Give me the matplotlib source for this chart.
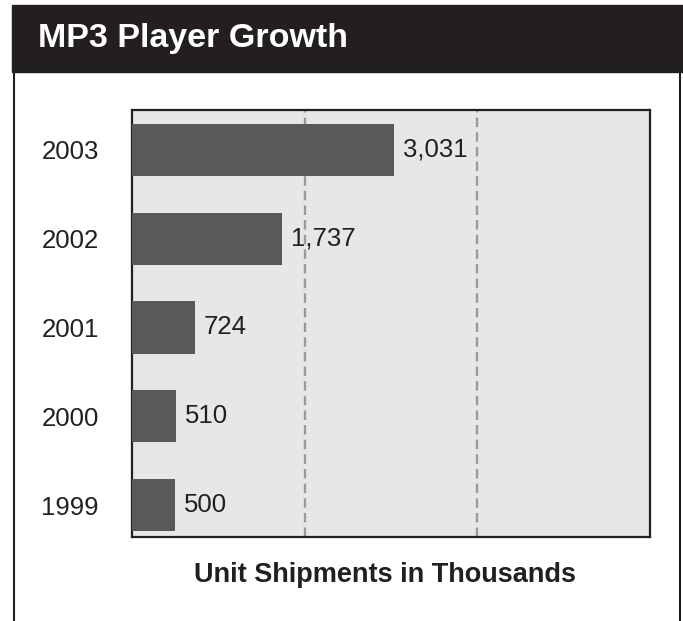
"""
MP3 player growth, horizontal bar chart
"""
import matplotlib
matplotlib.use("Agg")
import matplotlib.pyplot as plt
from matplotlib.patches import Rectangle
from matplotlib.lines import Line2D

years = ["1999", "2000", "2001", "2002", "2003"]
shipments = [500, 510, 724, 1737, 3031]
value_labels = ["500", "510", "724", "1,737", "3,031"]
grid_values = [2000, 4000]

W, H = 683, 621
INK = "#231f20"
BAR = "#58595b"
PANEL = "#e6e7e8"
DASH = "#9a9a9a"


def fx(px):
    return px / W


def fy(py):
    return 1 - py / H


def main():
    plt.rcParams["font.family"] = ["Liberation Sans", "DejaVu Sans"]
    fig = plt.figure(figsize=(W / 100, H / 100), dpi=100)

    # header bar and open frame
    fig.patches.append(Rectangle((fx(12), fy(72)), fx(W - 12), fy(5) - fy(72),
                                 transform=fig.transFigure, color=INK, zorder=0))
    for x in (13.5, 680):
        fig.lines.append(Line2D([fx(x), fx(x)], [fy(72), 0], transform=fig.transFigure,
                                color=INK, lw=1.5))
    fig.text(fx(38), fy(47), "MP3 Player Growth", color="white", fontsize=24.5,
             fontweight="bold", va="baseline", ha="left")

    ax = fig.add_axes([fx(132), fy(537), fx(650) - fx(132), fy(110) - fy(537)])
    ax.set_facecolor(PANEL)
    pos = list(range(len(years)))
    ax.barh(pos, shipments, height=0.586, color=BAR, zorder=3)
    for v in grid_values:
        ax.axvline(v, color=DASH, lw=1.7, linestyle=(0, (4, 2.2)), zorder=2)
    for p, v, lab in zip(pos, shipments, value_labels):
        ax.annotate(lab, (v, p), xytext=(9, 0), textcoords="offset pixels",
                    va="center", ha="left", fontsize=18.5, color=INK, zorder=4)

    ax.set_xlim(0, 6000)
    ax.set_ylim(-0.36, 4.45)
    ax.set_xticks([])
    ax.set_yticks(pos)
    ax.set_yticklabels(years, fontsize=18.5, color=INK)
    ax.tick_params(axis="y", length=0, pad=24)
    for s in ax.spines.values():
        s.set_color(INK)
        s.set_linewidth(1.6)

    fig.text(fx(385), fy(582), "Unit Shipments in Thousands", color=INK,
             fontsize=19.5, fontweight="bold", va="baseline", ha="center")

    fig.savefig("out.png", dpi=100)


if __name__ == "__main__":
    main()
